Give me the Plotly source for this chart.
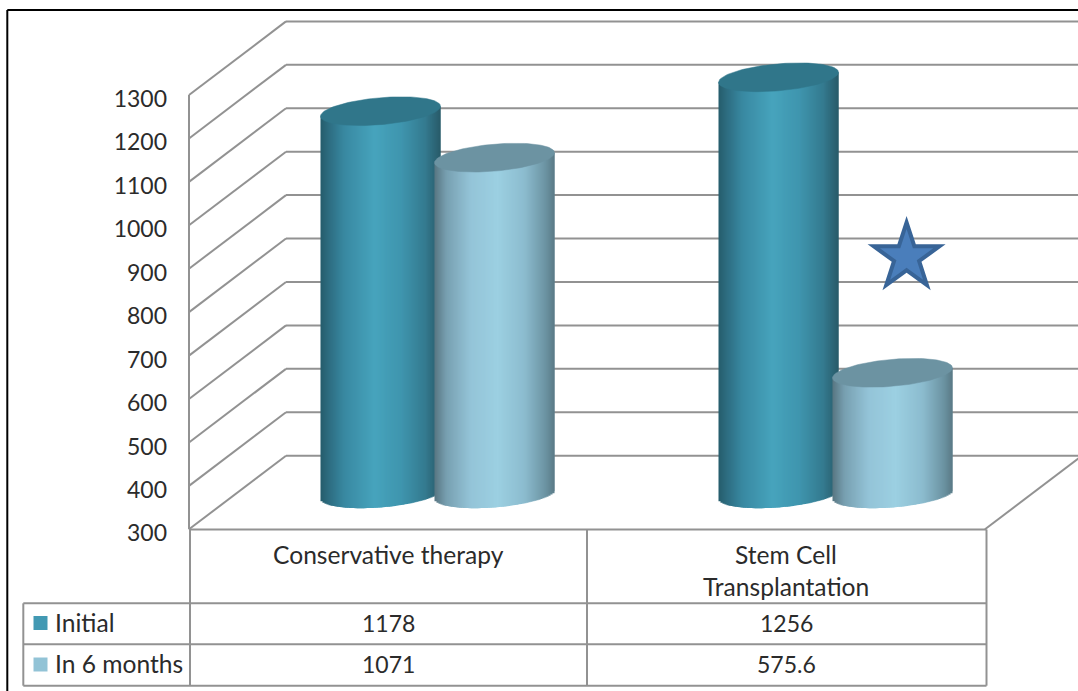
import numpy as np
import plotly.graph_objects as go

# --- data ---
categories = ["Conservative therapy", "Stem Cell<br>Transplantation"]
series_names = ["Initial", "In 6 months"]
initial = [1178, 1256]
six_months = [1071, 575.6]
value_labels = [["1178", "1256"], ["1071", "575.6"]]
tick_values = [300, 400, 500, 600, 700, 800, 900, 1000, 1100, 1200, 1300]

# --- canvas and scales ---
W, H = 1078, 691
UNIT_X = 398.0          # pixels per category
UNIT_Y = 0.4343         # pixels per value unit
X_ORIGIN = 388.0        # pixel of the first category centre
Y_BASE = 529.3          # pixel of the value 300
x_range = [-X_ORIGIN / UNIT_X, (W - X_ORIGIN) / UNIT_X]
y_range = [300 - (H - Y_BASE) / UNIT_Y, 300 + Y_BASE / UNIT_Y]

# 3D box: the back wall sits up and to the right of the front plane
DEPTH_X = 97 / UNIT_X
DEPTH_Y = 73.6 / UNIT_Y

# cylinder geometry (half width, cap minor radius, cap tilt)
CYL_A = 60 / UNIT_X
CYL_B = 13.5 / UNIT_Y
CYL_K = 5.0 / UNIT_Y
SPACING = 114 / UNIT_X
STRIPS = 60
STRIP_OVERLAP = 4 / UNIT_X

# shading across each cylinder: position (-1..1) and RGB
teal_stops = [(-1, (38, 92, 108)), (-0.85, (46, 110, 130)), (-0.6, (57, 137, 162)),
              (-0.1, (71, 164, 189)), (0.35, (63, 149, 174)), (0.75, (52, 122, 143)),
              (1, (40, 90, 105))]
light_stops = [(-1, (88, 118, 130)), (-0.8, (120, 160, 177)), (-0.4, (148, 196, 216)),
               (0.05, (156, 208, 226)), (0.5, (140, 188, 207)), (0.85, (108, 148, 163)),
               (1, (90, 122, 134))]
TEAL_CAP = "#30768A"
LIGHT_CAP = "#6C93A2"
TEAL_KEY = "#4299B3"
LIGHT_KEY = "#92C3D6"
GRID = "#929292"
TEXT = "#2B2B2B"
FONT = "Lato"
TEXT_SIZE = 24.6
DIGIT_SIZE = 23


def shade(stops, u):
    us = [s[0] for s in stops]
    rgb = [np.interp(u, us, [s[1][i] for s in stops]) for i in range(3)]
    return "rgb(%d,%d,%d)" % tuple(rgb)


def px_x(p):
    return p / W


def px_y(p):
    return 1 - p / H


fig = go.Figure()


def add_cylinder(center, value, stops, cap_color):
    # the body is a row of thin bars, each overlapped by the next one; the cap
    # is a tilted ellipse sitting on the value
    floor = 300 + DEPTH_Y / 2
    top_c = value + DEPTH_Y / 2
    us = (np.arange(STRIPS) + 0.5) / STRIPS * 2 - 1
    step = 2 * CYL_A / STRIPS
    lefts = center + us * CYL_A - step / 2
    widths = np.minimum(STRIP_OVERLAP, center + CYL_A - lefts)
    bases = floor - 3 + CYL_K * us - CYL_B * np.sqrt(1 - us ** 2)
    tops = top_c + CYL_K * us
    fig.add_trace(go.Bar(
        x=lefts, y=tops - bases, base=bases, width=widths, offset=0,
        marker=dict(color=[shade(stops, u) for u in us], line=dict(width=0)),
        hoverinfo="skip", showlegend=False))
    t = np.linspace(0, 2 * np.pi, 121)
    fig.add_trace(go.Scatter(
        x=center + CYL_A * np.cos(t),
        y=top_c + CYL_K * np.cos(t) + CYL_B * np.sin(t),
        mode="lines", fill="toself", fillcolor=cap_color,
        line=dict(width=0.5, color=cap_color),
        hoverinfo="skip", showlegend=False))


for i in range(len(categories)):
    group_center = i + DEPTH_X / 2 + 1 / UNIT_X
    add_cylinder(group_center - SPACING / 2, initial[i], teal_stops, TEAL_CAP)
    add_cylinder(group_center + SPACING / 2, six_months[i], light_stops, LIGHT_CAP)

# significance star beside the shrunken bar: dark outline star under a lighter one
for size, color in ((58.6, "#386497"), (40, "#4A7EBB")):
    fig.add_trace(go.Scatter(
        x=[1.303], y=[927], mode="markers",
        marker=dict(symbol="star", size=size, color=color, line=dict(width=0)),
        hoverinfo="skip", showlegend=False))

shapes = []


def grid_line(x0, y0, x1, y1):
    shapes.append(dict(type="line", xref="x", yref="y", x0=x0, y0=y0, x1=x1, y1=y1,
                       layer="below", line=dict(color=GRID, width=2)))


def table_line(x0, y0, x1, y1, color=GRID, width=2):
    shapes.append(dict(type="line", xref="paper", yref="paper",
                       x0=px_x(x0), y0=px_y(y0), x1=px_x(x1), y1=px_y(y1),
                       layer="below", line=dict(color=color, width=width)))


# side wall and back wall gridlines for every tick
for v in tick_values:
    grid_line(-0.5, v, -0.5 + DEPTH_X, v + DEPTH_Y)
    grid_line(-0.5 + DEPTH_X, v + DEPTH_Y, x_range[1], v + DEPTH_Y)

# right floor edge and the vertical axis
grid_line(1.5, 300, 1.5 + DEPTH_X, 300 + DEPTH_Y)
grid_line(-0.5, 300, -0.5, tick_values[-1])

# data table rules
for y in (603.3, 644.3, 685.7):
    table_line(23.3, y, 986.5, y)
table_line(190, 529.5, 986.5, 529.5)
table_line(190, 528, 190, 685.7)
table_line(587, 529.5, 587, 685.7)
table_line(986.5, 529.5, 986.5, 685.7)
table_line(23.3, 603.3, 23.3, 685.7)

# outer frame: top and left edges only
table_line(7.3, 10, W, 10, color="#000000", width=2)
table_line(7.3, 10, 7.3, H, color="#000000", width=2)

annotations = []


def table_text(text, x, y, size=TEXT_SIZE, xref="x", xanchor="center"):
    annotations.append(dict(text=text, x=x, y=px_y(y), xref=xref, yref="paper",
                            xanchor=xanchor, yanchor="middle", showarrow=False,
                            font=dict(family=FONT, size=size, color=TEXT)))


for i, label in enumerate(categories):
    lines = label.split("<br>")
    for j, line in enumerate(lines):
        table_text(line, i, 554 + 32 * j)
    table_text(value_labels[0][i], i, 622.5, size=DIGIT_SIZE)
    table_text(value_labels[1][i], i, 663.5, size=DIGIT_SIZE)

table_text(series_names[0], px_x(53), 622.5, xref="paper", xanchor="left")
table_text(series_names[1], px_x(53), 663.5, xref="paper", xanchor="left")

# legend keys inside the table
for yc, color in ((623, TEAL_KEY), (664.5, LIGHT_KEY)):
    shapes.append(dict(type="rect", xref="paper", yref="paper",
                       x0=px_x(33.5), x1=px_x(47.5), y0=px_y(yc + 7), y1=px_y(yc - 7),
                       fillcolor=color, line=dict(width=0)))

fig.update_layout(
    width=W, height=H, margin=dict(l=0, r=0, t=0, b=0),
    paper_bgcolor="white", plot_bgcolor="white",
    barmode="overlay", showlegend=False,
    shapes=shapes, annotations=annotations,
    xaxis=dict(range=x_range, visible=False, fixedrange=True),
    yaxis=dict(range=y_range, tickvals=tick_values, ticktext=[str(v) for v in tick_values],
               anchor="free", position=190 / W, showgrid=False, zeroline=False,
               showline=False, ticks="", ticklabelstandoff=23, ticklabelshift=4,
               fixedrange=True,
               tickfont=dict(family=FONT, size=DIGIT_SIZE, color=TEXT)),
)

fig.write_html("out.html", config=dict(displayModeBar=False))
